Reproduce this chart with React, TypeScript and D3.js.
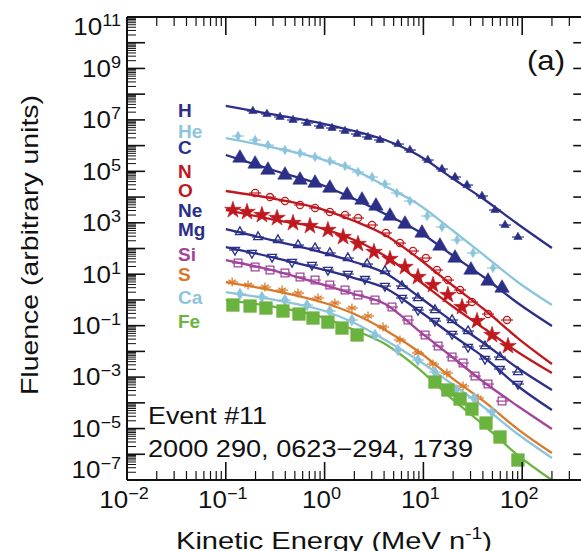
import React from "react";
import * as d3 from "d3";

// ---------------- data ----------------
const species = ["H", "He", "C", "N", "O", "Ne", "Mg", "Si", "S", "Ca", "Fe"];

// energies (MeV/n) at which the fitted spectra were read
const fitEnergy = [0.1, 0.32, 1.0, 2.0, 4.1, 8.8, 19.5, 42, 90, 200];
const fitH = [3.47e7, 1.55e7, 6.92e6, 3.7e6, 1.65e6, 4.32e5, 5.5e4, 7.67e3, 8.95e2, 1.04e2];
const fitHe = [1.97e6, 8.07e5, 2.75e5, 1.12e5, 2.69e4, 5.37e3, 5.24e2, 51.1, 4.98, 0.634];
const fitC = [4.32e5, 1.03e5, 2.69e4, 8.39e3, 2.19e3, 4.79e2, 55.8, 7.11, 0.759, 0.0968];
const fitN = [1.72e4, 8.39e3, 3.13e3, 1.17e3, 3.34e2, 42.7, 3.8, 0.406, 0.033, 0.00323];
const fitO = [3.13e3, 1.28e3, 5.71e2, 2.14e2, 51.1, 5.94, 0.579, 0.074, 0.00944, 0.00144];
const fitNe = [5.71e2, 1.95e2, 66.7, 29.8, 11.1, 1.42, 0.151, 0.0193, 0.00225, 3.15e-4];
const fitMg = [1.14e2, 42.7, 14.6, 7.11, 2.9, 0.406, 0.0433, 0.00552, 4.5e-4, 5.25e-5];
const fitSi = [35.6, 13.3, 3.8, 1.7, 0.693, 0.0676, 0.00604, 5.89e-4, 7.52e-5, 9.57e-6];
const fitS = [4.98, 2.22, 0.759, 0.283, 0.0676, 0.0103, 9.2e-4, 1.07e-4, 9.57e-6, 1.12e-6];
const fitCa = [2.03, 0.993, 0.371, 0.127, 0.0277, 0.00461, 5.38e-4, 6.28e-5, 6.12e-6, 7.14e-7];
const fitFe = [0.993, 0.531, 0.198, 0.0676, 0.0193, 0.00225, 1.41e-4, 1.25e-5, 9.33e-7, 9.95e-8];

// measured points
const hE = [0.188, 0.261, 0.354, 0.479, 0.664, 0.898, 1.19, 1.61, 2.13, 2.75, 3.64, 5.53, 7.31, 11.1, 15.4, 20.9, 27.6, 39.2, 53.0, 67.0, 90.6];
const hF = [2.21e7, 1.69e7, 1.29e7, 9.89e6, 7.57e6, 5.78e6, 4.83e6, 3.7e6, 2.83e6, 2.16e6, 1.65e6, 1.15e6, 6.75e5, 2.75e5, 1.23e5, 6.01e4, 2.94e4, 1.1e4, 3.13e3, 8.18e2, 2.79e2];
const heE = [0.133, 0.198, 0.267, 0.397, 0.564, 0.8, 1.13, 1.61, 2.18, 3.02, 4.08, 5.4, 7.31, 10.9, 15.4, 21.9, 31.8, 50.6];
const heF = [2.36e6, 1.65e6, 1.05e6, 6.75e5, 5.15e5, 3.61e5, 2.52e5, 1.61e5, 9.42e4, 6.01e4, 3.21e4, 1.44e4, 7.01e3, 1.83e3, 6.84e2, 2.14e2, 66.7, 17.4];
const cE = [0.139, 0.198, 0.267, 0.397, 0.564, 0.8, 1.13, 1.69, 2.39, 3.31, 4.59, 6.51, 9.68, 14.7, 20.9, 30.3, 45.1, 62.5];
const cF = [3.3e5, 1.93e5, 1.12e5, 7.19e4, 4.6e4, 3.52e4, 2.24e4, 1.2e4, 7.67e3, 4.49e3, 1.83e3, 8.95e2, 4.0e2, 1.25e2, 42.7, 14.6, 5.44, 2.9];
const nE = [0.198, 0.28, 0.397, 0.564, 0.8, 1.13, 1.61, 2.18, 3.02, 4.18, 5.79, 7.85, 10.6, 13.7, 17.7, 23.5, 31.0, 45.1, 70.2];
const nF = [1.44e4, 1.0e4, 7.01e3, 4.91e3, 3.75e3, 2.62e3, 2.0e3, 1.53e3, 8.18e2, 4.0e2, 1.63e2, 79.8, 42.7, 14.6, 5.94, 2.43, 0.83, 0.283, 0.166];
const oE = [0.118, 0.164, 0.232, 0.33, 0.479, 0.711, 1.08, 1.54, 2.18, 3.16, 4.59, 6.51, 8.81, 12.5, 17.7, 24.6, 34.9, 49.5, 71.8];
const oF = [3.13e3, 2.62e3, 2.0e3, 1.53e3, 9.79e2, 7.48e2, 5.24e2, 2.79e2, 1.49e2, 72.9, 39.0, 19.1, 7.78, 3.8, 1.55, 0.531, 0.151, 0.0433, 0.0161];
const neE = [0.139, 0.212, 0.337, 0.538, 0.8, 1.13, 1.72, 2.69, 4.08, 6.07, 8.81, 13.1, 19.5, 28.3, 42.0, 59.6, 90.6];
const neF = [4.38e2, 2.79e2, 2.14e2, 1.36e2, 1.04e2, 66.7, 42.7, 24.9, 13.3, 3.48, 1.19, 0.406, 0.166, 0.0618, 0.0161, 0.00604, 0.00158];
const mgE = [0.124, 0.184, 0.294, 0.468, 0.745, 1.08, 1.72, 2.56, 4.08, 6.07, 8.81, 13.1, 19.5, 28.3, 42.0, 59.6, 90.6];
const mgF = [87.3, 66.7, 46.7, 29.8, 22.8, 14.6, 10.2, 6.5, 3.48, 1.19, 0.406, 0.151, 0.0473, 0.0148, 0.00505, 0.00206, 5.38e-4];
const siE = [0.133, 0.198, 0.28, 0.397, 0.564, 0.8, 1.13, 1.61, 2.18, 3.24, 4.81, 6.98, 10.4, 14.1, 19.5, 25.2, 33.3, 45.1, 62.5];
const siF = [27.2, 19.1, 14.6, 11.1, 7.78, 5.94, 3.8, 2.43, 1.55, 0.993, 0.531, 0.166, 0.0433, 0.0161, 0.00604, 0.00352, 0.0011, 5.38e-4, 1.17e-4];
const sE = [0.116, 0.168, 0.249, 0.371, 0.538, 0.857, 1.27, 1.89, 2.75, 3.9, 5.79, 8.81, 12.5, 17.3, 25.2, 35.7];
const sF = [4.98, 3.8, 3.18, 2.43, 1.86, 1.19, 0.759, 0.485, 0.237, 0.0885, 0.0277, 0.00863, 0.00323, 0.00144, 4.5e-4, 1.54e-4];
const caE = [0.139, 0.232, 0.397, 0.664, 1.13, 1.89, 3.24, 5.53, 8.81, 13.1, 21.4, 32.5, 49.5];
const caF = [1.7, 1.3, 0.993, 0.634, 0.371, 0.166, 0.0433, 0.0113, 0.00461, 0.00158, 3.15e-4, 1.54e-4, 4.39e-5];
const feE = [0.118, 0.176, 0.255, 0.379, 0.551, 0.763, 1.08, 1.5, 2.13, 13.1, 17.7, 23.5, 31.0, 43.0, 59.6, 90.6];
const feF = [0.634, 0.579, 0.485, 0.371, 0.283, 0.198, 0.138, 0.0809, 0.0433, 6.44e-4, 3.15e-4, 1.41e-4, 5.74e-5, 1.64e-5, 4.68e-6, 5.97e-7];

const yLabelExps = [11, 9, 7, 5, 3, 1, -1, -3, -5, -7];
const xLabelExps = [-2, -1, 0, 1, 2];

// ---------------- styles ----------------
const NAVY = "#2b2f87";
const LBLUE = "#8cc5db";
const RED = "#c0181f";
const PURPLE = "#a2449a";
const ORANGE = "#d9792a";
const GREEN = "#6bb33f";
const FONT = "'Liberation Sans', Arial, Helvetica, sans-serif";

const fits = [fitH, fitHe, fitC, fitN, fitO, fitNe, fitMg, fitSi, fitS, fitCa, fitFe];
const ptsE = [hE, heE, cE, nE, oE, neE, mgE, siE, sE, caE, feE];
const ptsF = [hF, heF, cF, nF, oF, neF, mgF, siF, sF, caF, feF];

const styleOf: any[] = [
  { color: NAVY, sym: d3.symbolTriangle, size: 30, filled: true, bars: true, legendY: 117 },
  { color: LBLUE, sym: d3.symbolDiamond, size: 26, filled: true, bars: true, legendY: 138 },
  { color: NAVY, sym: d3.symbolTriangle, size: 90, filled: true, bars: false, legendY: 154 },
  { color: RED, sym: d3.symbolCircle, size: 40, filled: false, bars: true, legendY: 178 },
  { color: RED, sym: d3.symbolStar, size: 85, filled: true, bars: false, legendY: 197 },
  { color: NAVY, sym: d3.symbolTriangle, size: 34, filled: false, bars: true, legendY: 217 },
  { color: NAVY, sym: d3.symbolTriangle, size: 34, filled: false, bars: true, rot: 180, legendY: 236 },
  { color: PURPLE, sym: d3.symbolSquare, size: 60, filled: false, bars: true, legendY: 261 },
  { color: ORANGE, sym: (d3 as any).symbolAsterisk || d3.symbolCross, size: 55, filled: false, bars: true, legendY: 281 },
  { color: LBLUE, sym: d3.symbolDiamond, size: 40, filled: true, bars: true, legendY: 304 },
  { color: GREEN, sym: d3.symbolSquare, size: 160, filled: true, bars: false, legendY: 328 },
];

const X0 = 127;
const DEC_X = 98.8;
const Y_TOP = 17;
const Y_BOT = 480;

export default function App() {
  const x = d3
    .scaleLog()
    .domain([0.01, 500])
    .range([X0, X0 + DEC_X * Math.log10(500 / 0.01)]);
  const y = d3.scaleLog().domain([1e-7, 1e11]).range([Y_BOT, Y_TOP]);
  const xR = x.range()[1];

  const line = d3
    .line<[number, number]>()
    .x((d) => x(d[0]))
    .y((d) => y(d[1]))
    .curve(d3.curveMonotoneX);

  // ticks
  const xMajor: number[] = [];
  const xMinor: number[] = [];
  for (let e = -2; e <= 2; e++) {
    xMajor.push(Math.pow(10, e));
    for (let k = 2; k <= 9; k++) {
      const v = k * Math.pow(10, e);
      if (v <= 500) xMinor.push(v);
    }
  }
  const yMajor: number[] = [];
  const yMinor: number[] = [];
  for (let e = -7; e <= 11; e++) {
    yMajor.push(Math.pow(10, e));
    if (e < 11) for (let k = 2; k <= 9; k++) yMinor.push(k * Math.pow(10, e));
  }

  const sup = (e: number) => (e < 0 ? "\u2212" + Math.abs(e) : String(e));

  return (
    <svg
      width={581}
      height={551}
      style={{ position: "absolute", left: 0, top: 0, background: "#fff" }}
      fontFamily={FONT}
    >
      <rect x={0} y={0} width={581} height={551} fill="#fff" />
      {/* fitted curves */}
      <g fill="none" strokeWidth={2.3} strokeLinejoin="round">
        {species.map((s, i) => (
          <path
            key={"l" + s}
            d={line(fitEnergy.map((e, j) => [e, fits[i][j]] as [number, number])) || ""}
            stroke={styleOf[i].color}
          />
        ))}
      </g>
      {/* data points */}
      {species.map((s, i) => {
        const st = styleOf[i];
        const path = d3.symbol().type(st.sym).size(st.size)() || "";
        return (
          <g key={"p" + s}>
            {ptsE[i].map((e, j) => {
              const px = x(e);
              const py = y(ptsF[i][j]);
              return (
                <g key={j} transform={`translate(${px},${py})`}>
                  {st.bars && (
                    <line x1={-6} x2={6} y1={0} y2={0} stroke={st.color} strokeWidth={1.2} />
                  )}
                  <path
                    d={path}
                    transform={st.rot ? `rotate(${st.rot})` : undefined}
                    fill={st.filled ? st.color : "none"}
                    stroke={st.color}
                    strokeWidth={st.filled ? 0.6 : 1.3}
                  />
                </g>
              );
            })}
          </g>
        );
      })}

      {/* frame */}
      <g stroke="#111" fill="none">
        <line x1={X0} x2={X0} y1={Y_TOP} y2={Y_BOT} strokeWidth={2} />
        <line x1={X0} x2={xR} y1={Y_TOP} y2={Y_TOP} strokeWidth={2} />
        <line x1={X0} x2={xR} y1={Y_BOT} y2={Y_BOT} strokeWidth={2} />
        <line x1={xR} x2={xR} y1={Y_TOP} y2={Y_BOT} strokeWidth={2} />
        {yMajor.map((v) => (
          <g key={"ym" + v}>
            <line x1={X0} x2={X0 + 18} y1={y(v)} y2={y(v)} strokeWidth={1.6} />
            <line x1={xR} x2={xR - 18} y1={y(v)} y2={y(v)} strokeWidth={1.6} />
          </g>
        ))}
        {yMinor.map((v) => (
          <g key={"yn" + v}>
            <line x1={X0} x2={X0 + 9} y1={y(v)} y2={y(v)} strokeWidth={1} />
            <line x1={xR} x2={xR - 9} y1={y(v)} y2={y(v)} strokeWidth={1} />
          </g>
        ))}
        {xMajor.map((v) => (
          <g key={"xm" + v}>
            <line x1={x(v)} x2={x(v)} y1={Y_TOP} y2={Y_TOP + 18} strokeWidth={1.6} />
            <line x1={x(v)} x2={x(v)} y1={Y_BOT} y2={Y_BOT - 18} strokeWidth={1.6} />
          </g>
        ))}
        {xMinor.map((v) => (
          <g key={"xn" + v}>
            <line x1={x(v)} x2={x(v)} y1={Y_TOP} y2={Y_TOP + 9} strokeWidth={1.2} />
            <line x1={x(v)} x2={x(v)} y1={Y_BOT} y2={Y_BOT - 9} strokeWidth={1.2} />
          </g>
        ))}
      </g>

      {/* y tick labels */}
      {yLabelExps.map((e) => {
        const cy = Math.min(Math.max(y(Math.pow(10, e)), 27), 470);
        return (
          <g key={"yl" + e} transform={`translate(121,${cy + 8.3}) scale(1.13,1)`}>
            <text x={0} y={0} textAnchor="end" fontSize={23} fill="#111">
              <tspan>10</tspan>
              <tspan fontSize={16} dy={-9}>
                {sup(e)}
              </tspan>
            </text>
          </g>
        );
      })}
      {/* x tick labels */}
      {xLabelExps.map((e) => (
        <g key={"xl" + e} transform={`translate(${x(Math.pow(10, e)) - 3},508) scale(1.13,1)`}>
          <text x={0} y={0} textAnchor="middle" fontSize={23} fill="#111">
            <tspan>10</tspan>
            <tspan fontSize={16} dy={-9}>
              {sup(e)}
            </tspan>
          </text>
        </g>
      ))}

      {/* axis titles */}
      <text
        transform="translate(38,245) rotate(-90)"
        textAnchor="middle"
        fontSize={24}
        textLength={300}
        lengthAdjust="spacingAndGlyphs"
        fill="#111"
      >
        Fluence (arbitrary units)
      </text>
      <text x={176} y={549} fontSize={24} textLength={316} lengthAdjust="spacingAndGlyphs" fill="#111">
        <tspan>Kinetic Energy (MeV n</tspan>
        <tspan fontSize={16} dy={-10}>
          -1
        </tspan>
        <tspan dy={10}>)</tspan>
      </text>

      {/* panel letter */}
      <text x={527} y={70} fontSize={28} textLength={38} lengthAdjust="spacingAndGlyphs" fill="#111">
        (a)
      </text>

      {/* event annotation */}
      <text x={148} y={423.5} fontSize={23} textLength={119} lengthAdjust="spacingAndGlyphs" fill="#111">
        Event #11
      </text>
      <text x={148} y={457} fontSize={23} textLength={325} lengthAdjust="spacingAndGlyphs" fill="#111">
        2000 290, 0623{"\u2212"}294, 1739
      </text>

      {/* species legend */}
      {species.map((s, i) => (
        <text key={"lg" + s} x={178} y={styleOf[i].legendY} fontSize={19} fontWeight="bold" fill={styleOf[i].color}>
          {s}
        </text>
      ))}
    </svg>
  );
}
